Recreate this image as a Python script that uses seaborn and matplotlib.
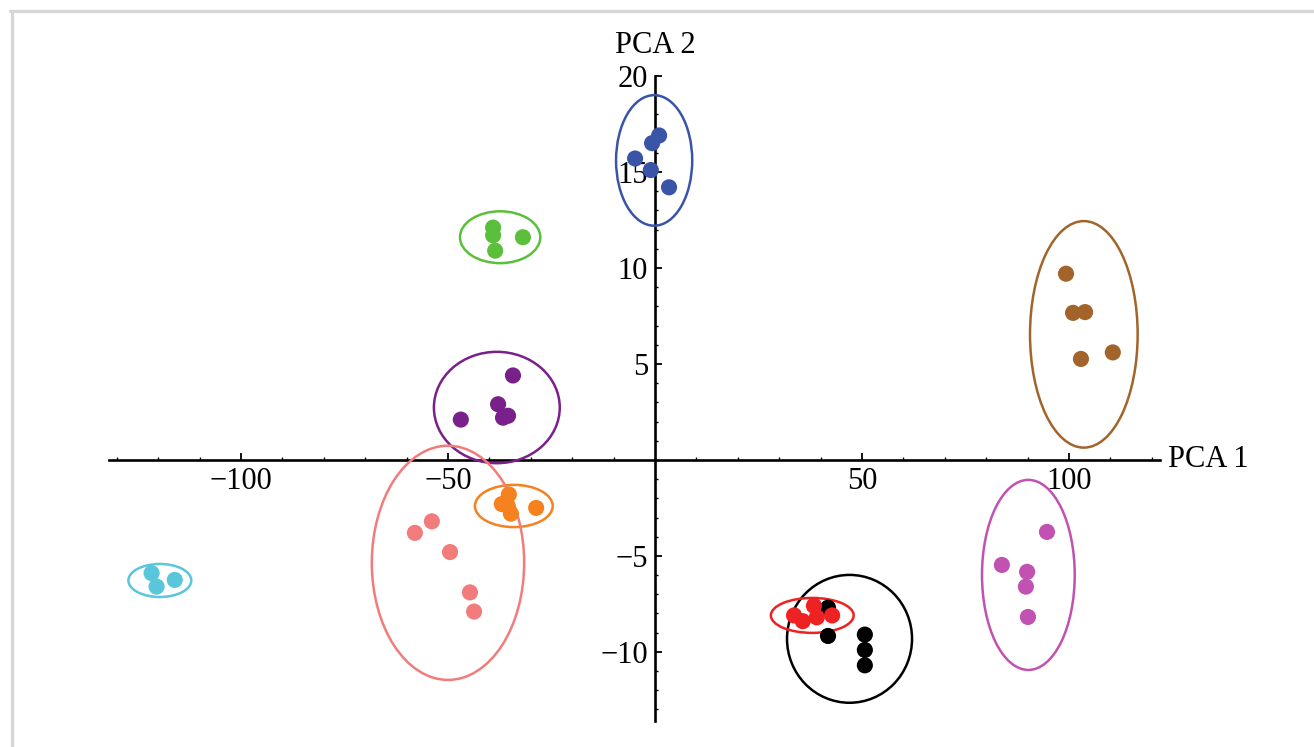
#!/usr/bin/env python3

import numpy as np
import pandas as pd
import seaborn as sns
import matplotlib.pyplot as plt
from matplotlib.patches import Ellipse
from matplotlib.ticker import MultipleLocator, FixedLocator
import matplotlib.transforms as mtransforms

# PCA scores per group
blue_x = [-4.8, -0.7, 1.0, -1.0, 3.4]
blue_y = [15.7, 16.5, 16.9, 15.1, 14.2]
green_x = [-39.1, -39.1, -38.6, -31.9]
green_y = [12.1, 11.7, 10.9, 11.6]
purple_x = [-34.3, -37.9, -35.5, -36.7, -46.9]
purple_y = [4.4, 2.9, 2.3, 2.2, 2.1]
orange_x = [-35.3, -37.0, -34.8, -35.6, -28.7]
orange_y = [-1.8, -2.3, -2.8, -2.4, -2.5]
pink_x = [-58.0, -53.9, -49.5, -44.7, -43.7]
pink_y = [-3.8, -3.2, -4.8, -6.9, -7.9]
cyan_x = [-121.6, -120.4, -116.0]
cyan_y = [-5.9, -6.6, -6.25]
brown_x = [99.3, 101.0, 103.9, 102.9, 110.6]
brown_y = [9.7, 7.66, 7.7, 5.26, 5.6]
magenta_x = [94.7, 83.8, 89.9, 89.6, 90.1]
magenta_y = [-3.75, -5.47, -5.83, -6.6, -8.18]
black_x = [41.8, 41.8, 50.7, 50.7, 50.7]
black_y = [-7.7, -9.17, -9.1, -9.9, -10.7]
red_x = [33.6, 35.7, 38.4, 39.1, 42.8]
red_y = [-8.1, -8.4, -7.6, -8.2, -8.1]

# ellipse per group: center x, center y, half width, half height
ell_blue = [-0.2, 15.6, 9.2, 3.4]
ell_green = [-37.4, 11.6, 9.7, 1.35]
ell_purple = [-38.2, 2.73, 15.2, 2.9]
ell_orange = [-34.1, -2.4, 9.4, 1.1]
ell_pink = [-50.0, -5.36, 18.4, 6.1]
ell_cyan = [-119.6, -6.28, 7.6, 0.86]
ell_brown = [103.6, 6.54, 13.0, 5.9]
ell_magenta = [90.2, -5.99, 11.2, 4.95]
ell_black = [47.0, -9.32, 15.1, 3.33]
ell_red = [38.0, -8.1, 10.0, 0.91]

groups = {
    "blue": (blue_x, blue_y, ell_blue, "#3a55a8"),
    "green": (green_x, green_y, ell_green, "#5cbf3c"),
    "purple": (purple_x, purple_y, ell_purple, "#7a208a"),
    "orange": (orange_x, orange_y, ell_orange, "#f5821f"),
    "pink": (pink_x, pink_y, ell_pink, "#f27c7c"),
    "cyan": (cyan_x, cyan_y, ell_cyan, "#5ac6dc"),
    "brown": (brown_x, brown_y, ell_brown, "#a2642a"),
    "magenta": (magenta_x, magenta_y, ell_magenta, "#c152b1"),
    "black": (black_x, black_y, ell_black, "#000000"),
    "red": (red_x, red_y, ell_red, "#ee2222"),
}

rows = []
for name, (xs, ys, _, _) in groups.items():
    for x, y in zip(xs, ys):
        rows.append({"PC1": x, "PC2": y, "group": name})
df = pd.DataFrame(rows)
palette = {k: v[3] for k, v in groups.items()}

sns.set_style("white")
plt.rcParams["font.family"] = ["Liberation Serif", "DejaVu Serif"]
plt.rcParams["text.color"] = "black"

fig = plt.figure(figsize=(13.14, 7.47), dpi=100)
ax = fig.add_axes([0.0826, 0.0348, 0.8002, 0.8635])

sns.scatterplot(data=df, x="PC1", y="PC2", hue="group", palette=palette,
                s=135, linewidth=0, legend=False, ax=ax, zorder=3)

for name, (_, _, ell, col) in groups.items():
    e = Ellipse((ell[0], ell[1]), 2 * ell[2], 2 * ell[3], fill=False,
                edgecolor=col, linewidth=1.8, zorder=2)
    ax.add_patch(e)

ax.set_xlim(-132, 122)
ax.set_ylim(-13.6, 20.0)

# Mathematica style axes through the origin
for s in ["top", "right"]:
    ax.spines[s].set_visible(False)
ax.spines["left"].set_position(("data", 0))
ax.spines["bottom"].set_position(("data", 0))
for s in ["left", "bottom"]:
    ax.spines[s].set_linewidth(1.9)
    ax.spines[s].set_color("black")
    ax.spines[s].set_zorder(1)

ax.xaxis.set_major_locator(FixedLocator([-100, -50, 50, 100]))
ax.xaxis.set_minor_locator(MultipleLocator(10))
ax.yaxis.set_major_locator(FixedLocator([-10, -5, 5, 10, 15, 20]))
ax.yaxis.set_minor_locator(MultipleLocator(1))
ax.set_xticklabels(["\u2212100", "\u221250", "50", "100"])
ax.set_yticklabels(["\u221210", "\u22125", "5", "10", "15", "20"])
ax.tick_params(which="both", bottom=True, left=True, top=False, right=False)
ax.tick_params(which="major", direction="in", length=5, width=1.3,
               labelsize=22, pad=5, colors="black")
ax.tick_params(which="minor", direction="in", length=2.5, width=1.0,
               colors="black")
ax.set_xlabel("")
ax.set_ylabel("")

blend = mtransforms.blended_transform_factory(ax.transAxes, ax.transData)
ax.text(1.008, 0, "PCA 1", transform=blend, ha="left", va="center",
        fontsize=22)
blend2 = mtransforms.blended_transform_factory(ax.transData, ax.transAxes)
ax.text(0, 1.025, "PCA 2", transform=blend2, ha="center", va="bottom",
        fontsize=22)

# light grey frame on top and left
fig.add_artist(plt.Line2D([11.5 / 1314, 11.5 / 1314], [0, 1 - 10.5 / 747],
                          color="#d6d6d6", linewidth=2.3,
                          transform=fig.transFigure))
fig.add_artist(plt.Line2D([10 / 1314, 1], [1 - 10.5 / 747, 1 - 10.5 / 747],
                          color="#d6d6d6", linewidth=2.3,
                          transform=fig.transFigure))

plt.savefig("out.png", dpi=100)
